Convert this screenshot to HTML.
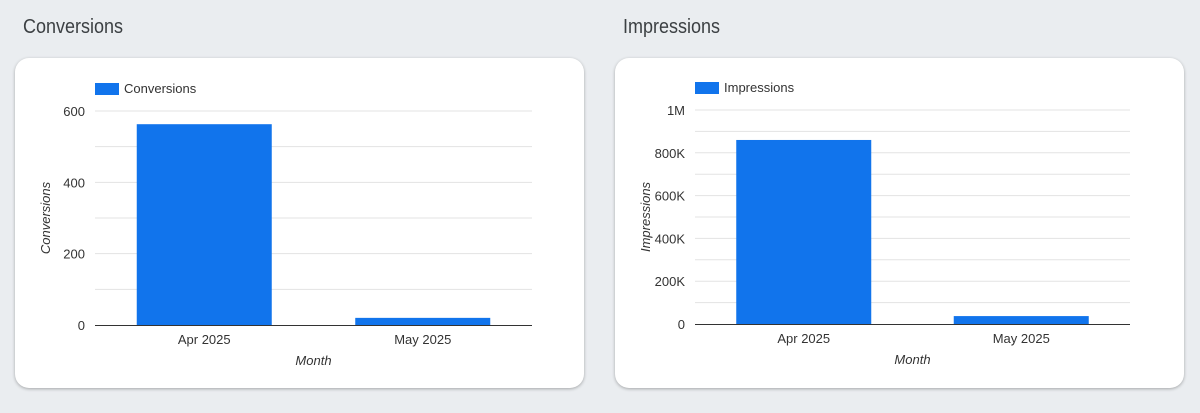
<!DOCTYPE html>
<html><head><meta charset="utf-8"><style>
body{margin:0;width:1200px;height:413px;background:#eaedf0;font-family:"Liberation Sans",sans-serif;position:relative;overflow:hidden}
.title{position:absolute;top:16px;font-size:20px;color:#3c4043;font-family:"Liberation Sans Narrow","Liberation Sans",sans-serif;transform:scaleX(0.9);transform-origin:left}
.card{position:absolute;top:58px;width:569px;height:330px;background:#fff;border-radius:14px;box-shadow:0 1px 3px rgba(0,0,0,.3)}
svg{position:absolute;left:0;top:0}
</style></head><body>
<div class="title" style="left:23px">Conversions</div>
<div class="title" style="left:623px">Impressions</div>
<div class="card" style="left:15px"></div>
<div class="card" style="left:615px"></div>
<svg id="c" width="1200" height="413"></svg>
<script>
const categories = ["Apr 2025", "May 2025"];
const conversionsValues = [563, 20];
const impressionsValues = [860000, 37000];
const conversionsTicks = [0, 200, 400, 600];
const impressionsTicks = [0, 200000, 400000, 600000, 800000, 1000000];
const impressionsTickLabels = ["0", "200K", "400K", "600K", "800K", "1M"];
const NS = "http://www.w3.org/2000/svg";
const svg = document.getElementById("c");
function mk(tag, attrs, text){const e=document.createElementNS(NS,tag);for(const k in attrs)e.setAttribute(k,attrs[k]);if(text!==undefined)e.textContent=text;svg.appendChild(e);return e;}
function draw(o){
  const y = v => o.base - (v/o.max)*(o.base-o.top);
  const step = o.max/ (o.gridCount);
  for(let i=1;i<=o.gridCount;i++){
    const g=mk("line",{x1:o.x0,x2:o.x1,y1:y(step*i),y2:y(step*i),stroke:"#e3e3e3","stroke-width":1});
    
    
  }
  o.ticks.forEach((t,i)=>{
    const l=mk("text",{x:o.x0-10,y:y(t)+5,"text-anchor":"end","font-size":13,fill:"#333"},o.labels[i]);
    
    
  });
  const bw=(o.x1-o.x0)/categories.length;
  o.values.forEach((v,i)=>{
    const cx=o.x0+bw*(i+0.5);
    const r=mk("rect",{x:cx-67.5,y:y(v),width:135,height:o.base-y(v),fill:"#1174ec"});
    
    
    const t=mk("text",{x:cx,y:o.base+19,"text-anchor":"middle","font-size":13,fill:"#333"},categories[i]);
    
    
  });
  const ax=mk("line",{x1:o.x0,x2:o.x1,y1:o.base+0.5,y2:o.base+0.5,stroke:"#333","stroke-width":1});
  
  
  const xt=mk("text",{x:(o.x0+o.x1)/2,y:o.base+40,"text-anchor":"middle","font-size":13,"font-style":"italic",fill:"#333"},"Month");
  
  
  const yt=mk("text",{x:0,y:0,transform:`translate(${o.x0-45},${(o.top+o.base)/2}) rotate(-90)`,"text-anchor":"middle","font-size":13,"font-style":"italic",fill:"#333"},o.name);
  
  
  const lr=mk("rect",{x:o.x0,y:o.top-28,width:24,height:12,fill:"#1174ec"});
  
  
  const lt=mk("text",{x:o.x0+29,y:o.top-18,"font-size":13,fill:"#333"},o.name);
  
  
}
draw({x0:95,x1:532,top:111,base:325,max:600,gridCount:6,ticks:conversionsTicks,labels:conversionsTicks.map(String),values:conversionsValues,name:"Conversions"});
draw({x0:695,x1:1130,top:110,base:324,max:1000000,gridCount:10,ticks:impressionsTicks,labels:impressionsTickLabels,values:impressionsValues,name:"Impressions"});
</script>
</body></html>
